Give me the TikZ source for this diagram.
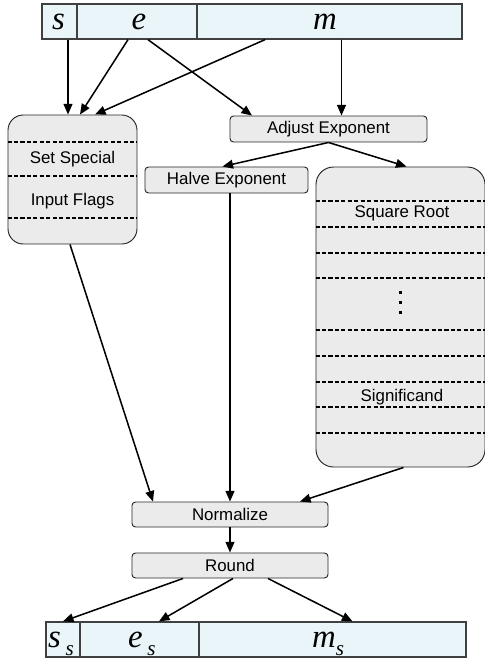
\documentclass[tikz,border=0pt]{standalone}
\usepackage{fontspec}
\setmainfont{Liberation Serif}
\setsansfont{Liberation Sans}
\usetikzlibrary{calc,arrows.meta}
\definecolor{fieldfill}{RGB}{233,245,248}
\definecolor{stagefill}{RGB}{235,235,235}
\newcommand{\stagefont}{\sffamily\fontsize{14.4}{17}\selectfont}
\newcommand{\letterfont}{\rmfamily\itshape\fontsize{28}{30}\selectfont}
\newcommand{\subletter}[2]{\kern#1\raisebox{-7pt}{\fontsize{18}{18}\selectfont #2}}
\tikzset{
  field/.style={draw=black!75, line width=1.1pt, fill=fieldfill, inner sep=0pt, minimum height=1.05cm},
  stage/.style={draw=black!85, line width=0.8pt, fill=stagefill, rounded corners=3pt,
                inner sep=0pt, minimum height=0.78cm, font=\stagefont},
  block/.style={stage, rounded corners=13pt},
  caption/.style={font=\stagefont, inner sep=0pt},
  letter/.style={font=\letterfont, inner sep=0pt},
  sep/.style={dash pattern=on 3.5pt off 2pt, line width=1pt},
  conn/.style={-{Triangle[length=9pt,width=7.5pt]}, line width=1.3pt}
}

\begin{document}
\begin{tikzpicture}[x=0.03cm, y=-0.03cm]
 \useasboundingbox (0,0) rectangle (485,660);

 % input word
 \node[field, minimum width=1.05cm] (sf) at (59.5,21.5) {};
 \node[field, minimum width=3.6cm] (ef) at (137,21.5) {};
 \node[field, minimum width=7.95cm] (mf) at (329.5,21.5) {};
 \node[letter, anchor=base] (sl) at (58.5,29) {s};
 \node[letter, anchor=base] (el) at (139,29) {e};
 \node[letter, anchor=base] (ml) at (325,29) {m};

 % stages
 \node[block, minimum width=3.87cm, minimum height=3.87cm] (flags) at (72.5,179.5) {};
 \foreach \y in {142,176,218}
   \draw[sep] ($(flags.west)+(0,\y-179.5)$) -- ($(flags.east)+(0,\y-179.5)$);
 \node[caption] (special) at (72.5,159) {Set Special};
 \node[caption] (inflags) at (72.5,201) {Input Flags};

 \node[stage, minimum width=5.91cm] (adjust) at (328.5,129) {Adjust Exponent};
 \node[stage, minimum width=4.89cm] (halve) at (226.5,180) {Halve Exponent};

 \node[block, rounded corners=15pt, minimum width=5.07cm, minimum height=9cm] (sqrt) at (400.5,317) {};
 \foreach \y in {201,227,253,278,330,356,382,407,433}
   \draw[sep] ($(sqrt.west)+(0,\y-317)$) -- ($(sqrt.east)+(0,\y-317)$);
 \node[caption] (sqroot) at (402,213) {Square Root};
 \node[caption] (signif) at (402,397) {Significand};
 \foreach \y in {292,302,312}
   \fill (398.5,\y-1.5) rectangle +(3,3);

 \node[stage, minimum width=5.88cm, minimum height=0.75cm] (norm) at (230,514.5) {Normalize};
 \node[stage, minimum width=5.88cm, minimum height=0.75cm] (round) at (230,565.5) {Round};

 % output word
 \node[field, minimum width=1.02cm] (ssf) at (63,639.5) {};
 \node[field, minimum width=3.57cm] (esf) at (139.5,639.5) {};
 \node[field, minimum width=8.01cm] (msf) at (332.5,639.5) {};
 \node[letter, anchor=base west] (ssl) at (48,647) {s\subletter{4pt}{s}};
 \node[letter, anchor=base west] (esl) at (128,647) {e\subletter{4pt}{s}};
 \node[letter, anchor=base west] (msl) at (312,647) {m\subletter{0pt}{s}};

 % connections
 \draw[conn] ($(sf.south)+(8.5,0)$) coordinate (s1) -- (s1 |- flags.north);
 \draw[conn] ($(ef.south)+(-9,0)$) -- ($(flags.north)+(7.5,0)$);
 \draw[conn] ($(ef.south)+(11,0)$) -- ($(adjust.north)+(-76.5,0)$);
 \draw[conn] ($(mf.south)+(-64.5,0)$) -- ($(flags.north)+(22.5,0)$);
 \draw[conn] ($(mf.south)+(12,0)$) coordinate (m1) -- (m1 |- adjust.north);
 \draw[conn] (adjust.south) -- ($(halve.north)+(-4,0)$);
 \draw[conn] (adjust.south) -- ($(sqrt.north)+(6,0)$);
 \draw[conn] ($(halve.south)+(3.5,0)$) coordinate (h1) -- (h1 |- norm.north);
 \draw[conn] ($(flags.south)+(-2.5,0)$) -- ($(norm.north)+(-77,0)$);
 \draw[conn] ($(sqrt.south)+(3,0)$) -- ($(norm.north)+(70,0)$);
 \draw[conn] (norm.south) -- (round.north);
 \draw[conn] ($(round.south)+(-47,0)$) -- (ssf.north);
 \draw[conn] ($(round.south)+(3,0)$) -- ($(esf.north)+(19.5,0)$);
 \draw[conn] ($(round.south)+(38,0)$) -- ($(msf.north)+(20,0)$);

\end{tikzpicture}
\end{document}
